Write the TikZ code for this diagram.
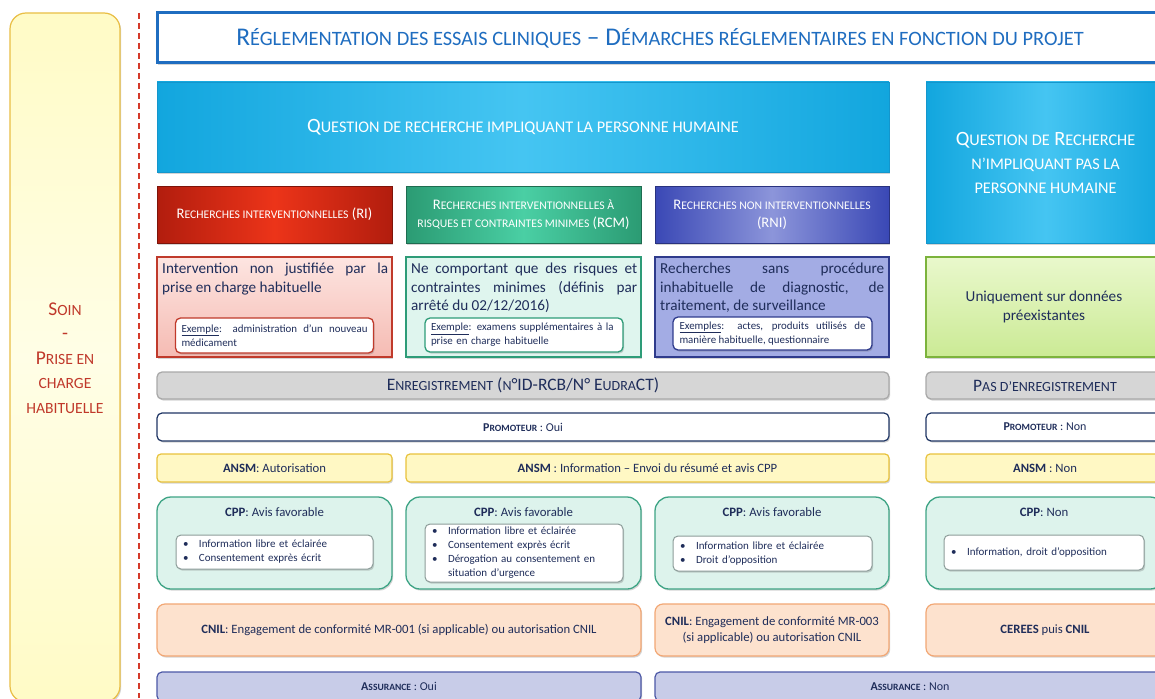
\documentclass[tikz,border=0pt]{standalone}
\usepackage{fontspec}
\setmainfont{Carlito}
\usetikzlibrary{shadows}
\hyphenpenalty=10000 \exhyphenpenalty=10000
\makeatletter
\newcommand\smc[1]{{\fontsize{\fpeval{0.8*\f@size}}{\fpeval{1.2*\f@size}}\selectfont\MakeUppercase{#1}}}
\makeatother
\definecolor{titleblue}{HTML}{1F6DC0}
\definecolor{navy}{HTML}{1F2D5A}
\definecolor{txt}{HTML}{2A365A}
\definecolor{qL}{HTML}{45C5F2}
\definecolor{qD}{HTML}{12A6DE}
\definecolor{qB}{HTML}{1496CC}
\definecolor{riD}{HTML}{B21D0E}
\definecolor{riL}{HTML}{EC3419}
\definecolor{rcmD}{HTML}{2B9B73}
\definecolor{rcmL}{HTML}{4ACFA4}
\definecolor{rniD}{HTML}{3A48B5}
\definecolor{rniL}{HTML}{8C95DA}
\definecolor{riB}{HTML}{C03A2B}
\definecolor{riTop}{HTML}{FDE5E1}
\definecolor{riBot}{HTML}{F5BBB3}
\definecolor{rcmB}{HTML}{2E9C78}
\definecolor{rcmF}{HTML}{DFF5EE}
\definecolor{rniB}{HTML}{2F3B8C}
\definecolor{rniF}{HTML}{A3ACE4}
\definecolor{grB}{HTML}{7CB33C}
\definecolor{grTop}{HTML}{E9F8CC}
\definecolor{grBot}{HTML}{CBEA95}
\definecolor{grayF}{HTML}{D6D6D6}
\definecolor{grayB}{HTML}{A9A9A9}
\definecolor{proB}{HTML}{1F3564}
\definecolor{ansmF}{HTML}{FFF8C4}
\definecolor{ansmB}{HTML}{E8C23C}
\definecolor{cppF}{HTML}{DDF3EC}
\definecolor{cppB}{HTML}{3EA485}
\definecolor{bulB}{HTML}{8C9C99}
\definecolor{cnilF}{HTML}{FDE2CE}
\definecolor{cnilB}{HTML}{F2A774}
\definecolor{asF}{HTML}{C8CCE8}
\definecolor{asB}{HTML}{4C58A6}
\definecolor{soinF}{HTML}{FFFBC6}
\definecolor{soinM}{HTML}{FFFEE6}
\definecolor{soinB}{HTML}{E9BE45}
\definecolor{soinT}{HTML}{C0392B}
\definecolor{dashC}{HTML}{D43A2A}
\newcommand\Bx[7]{\node[#2, minimum width={(#5-#3)*1pt}, minimum height={(#6-#4)*1pt}] (#1) at ({(#3+#5)/2},{(#4+#6)/2}) {#7};}
\newcommand\bl{\makebox[16pt][l]{•}}
\tikzset{
 bx/.style={outer sep=0pt, inner sep=1pt, align=center, text=txt},
 shd/.style={drop shadow={opacity=0.28, shadow xshift=1.2pt, shadow yshift=-1.6pt, fill=black!60}},
 soinbox/.style={bx, draw=soinB, line width=1.2pt, rounded corners=16pt, top color=soinF, bottom color=soinF, middle color=soinM, shd},
 sointext/.style={inner sep=0pt, align=center, text=soinT, font=\fontsize{19.5}{24.5}\selectfont},
 titlebox/.style={bx, draw=titleblue, line width=3pt, fill=white, text=titleblue, font=\fontsize{25.5}{28}\selectfont, shd},
 qbox/.style={bx, draw=qB, line width=0.8pt, left color=qD, right color=qD, middle color=qL, text=white, font=\fontsize{20.3}{24}\selectfont, shd},
 hdr/.style={bx, line width=0.8pt, text=white, font=\fontsize{14.6}{18}\selectfont, shd},
 desc/.style={bx, line width=1.3pt, shd},
 desctext/.style={inner sep=0pt, text width=226pt, align=justify, text=navy, font=\fontsize{15.2}{18.5}\selectfont},
 exbox/.style={bx, fill=white, line width=1.3pt, rounded corners=5pt, inner xsep=6pt, text width=186pt, align=justify, text=navy, font=\fontsize{10.9}{14}\selectfont, shd},
 graybar/.style={bx, draw=grayB, fill=grayF, line width=1.3pt, rounded corners=5pt, text=navy, font=\fontsize{17.5}{20}\selectfont, shd},
 probar/.style={bx, draw=proB, fill=white, line width=1.2pt, rounded corners=5pt, text=navy, font=\fontsize{12}{14}\selectfont, shd},
 ansm/.style={bx, draw=ansmB, fill=ansmF, line width=1.2pt, rounded corners=4pt, text=navy, font=\fontsize{12.7}{15}\selectfont, shd},
 cpp/.style={bx, draw=cppB, fill=cppF, line width=1.3pt, rounded corners=14pt, shd},
 lbl/.style={inner sep=0pt, text=navy, font=\fontsize{12.8}{15}\selectfont},
 bul/.style={bx, draw=bulB, fill=white, line width=1pt, rounded corners=5pt, inner xsep=7pt, align=left, text=navy, font=\fontsize{11}{14}\selectfont, shd},
 cnil/.style={bx, draw=cnilB, fill=cnilF, line width=1.2pt, rounded corners=8pt, text=navy, font=\fontsize{12.7}{16}\selectfont, shd},
 assur/.style={bx, draw=asB, fill=asF, line width=1.2pt, rounded corners=5pt, text=navy, font=\fontsize{12}{14}\selectfont, shd},
 dashline/.style={draw=dashC, line width=1.6pt, dash pattern=on 6pt off 4pt},
}
\begin{document}
\begin{tikzpicture}[x=1pt,y=-1pt]
\useasboundingbox[fill=white] (0,0) rectangle (1155,698);
% left column
\Bx{soin}{soinbox}{10}{13}{120}{702}{}
\node[sointext] (soint) at (65,358) {S\smc{oin}\\-\\P\smc{rise en}\\\smc{charge}\\\smc{habituelle}};
\coordinate (d1) at (139,13);
\coordinate (d2) at (139,698);
\draw[dashline] (d1) -- (d2);
% title
\Bx{title}{titlebox}{157}{13}{1163}{63}{R\smc{églementation des essais cliniques} – D\smc{émarches réglementaires en fonction du projet}}
% questions
\Bx{q1}{qbox}{157}{82}{889}{172}{Q\smc{uestion de recherche impliquant la personne humaine}}
\Bx{q2}{qbox}{926}{82}{1165}{243}{Q\smc{uestion de} R\smc{echerche}\\\smc{n’impliquant pas la}\\\smc{personne humaine}}
% headers
\Bx{ri}{hdr, draw=riD!70!black, left color=riD, right color=riD, middle color=riL}{157}{186}{392}{243}{R\smc{echerches interventionnelles} (RI)}
\Bx{rcm}{hdr, draw=rcmD!70!black, left color=rcmD, right color=rcmD, middle color=rcmL}{406}{186}{641}{243}{R\smc{echerches interventionnelles à}\\\smc{risques et contraintes minimes} (RCM)}
\Bx{rni}{hdr, draw=rniD!70!black, left color=rniD, right color=rniD, middle color=rniL}{655}{186}{889}{243}{R\smc{echerches non interventionnelles}\\(RNI)}
% descriptions
\Bx{dri}{desc, draw=riB, top color=riTop, bottom color=riBot}{157}{257}{392}{357}{}
\node[desctext, anchor=north west] (tri) at (162,263) {Intervention non justifiée par la\linebreak prise en charge habituelle};
\Bx{eri}{exbox, draw=riB}{176}{318}{373}{353}{\underline{Exemple}: administration d’un nouveau\linebreak médicament}
\Bx{drcm}{desc, draw=rcmB, fill=rcmF}{406}{257}{641}{357}{}
\node[desctext, anchor=north west] (trcm) at (411,263) {Ne comportant que des risques et\linebreak contraintes minimes (définis par\linebreak arrêté du 02/12/2016)};
\Bx{ercm}{exbox, draw=rcmB, align=left}{425}{318}{623}{352}{\underline{Exemple}: examens supplémentaires à la\\prise en charge habituelle}
\Bx{drni}{desc, draw=rniB, fill=rniF}{655}{257}{889}{357}{}
\node[desctext, anchor=north west, text width=224pt] (trni) at (660,263) {Recherches sans procédure\linebreak inhabituelle de diagnostic, de\linebreak traitement, de surveillance};
\Bx{erni}{exbox, draw=rniB}{673}{317}{872}{350}{\underline{Exemples}: actes, produits utilisés de\linebreak manière habituelle, questionnaire}
\Bx{dnp}{desc, draw=grB, top color=grTop, bottom color=grBot, text=navy, font=\fontsize{15.2}{18.5}\selectfont}{926}{257}{1162}{357}{Uniquement sur données\\préexistantes}
% registration
\Bx{enr}{graybar}{157}{372}{889}{399}{E\smc{nregistrement} (\smc{n}°ID-RCB/N° E\smc{udra}CT)}
\Bx{penr}{graybar}{926}{372}{1164}{399}{P\smc{as d’enregistrement}}
% promoteur
\Bx{pro1}{probar}{157}{413}{889}{441}{\textbf{P\smc{romoteur}} : Oui}
\Bx{pro2}{probar}{926}{413}{1164}{441}{\textbf{P\smc{romoteur}} : Non}
% ANSM
\Bx{an1}{ansm}{157}{454}{392}{482}{\textbf{ANSM}: Autorisation}
\Bx{an2}{ansm}{406}{454}{889}{482}{\textbf{ANSM} : Information – Envoi du résumé et avis CPP}
\Bx{an3}{ansm}{926}{454}{1164}{482}{\textbf{ANSM} : Non}
% CPP
\Bx{cpp1}{cpp}{157}{497}{392}{589}{}
\node[lbl] (cpp1t) at (274.5,512) {\textbf{CPP}: Avis favorable};
\Bx{cpp1b}{bul, text width=183pt}{176}{535}{373}{569}{\bl Information libre et éclairée\\\bl Consentement exprès écrit}
\Bx{cpp2}{cpp}{406}{497}{641}{589}{}
\node[lbl] (cpp2t) at (523.5,512) {\textbf{CPP}: Avis favorable};
\Bx{cpp2b}{bul, text width=184pt}{425}{524}{623}{582}{\bl Information libre et éclairée\\\bl Consentement exprès écrit\\\bl Dérogation au consentement en\\\hspace*{16pt}situation d’urgence}
\Bx{cpp3}{cpp}{655}{497}{889}{589}{}
\node[lbl] (cpp3t) at (772,512) {\textbf{CPP}: Avis favorable};
\Bx{cpp3b}{bul, text width=185pt}{673}{536}{872}{571}{\bl Information libre et éclairée\\\bl Droit d’opposition}
\Bx{cpp4}{cpp}{926}{497}{1164}{589}{}
\node[lbl] (cpp4t) at (1044,512) {\textbf{CPP}: Non};
\Bx{cpp4b}{bul, text width=186pt}{944}{535}{1144}{570}{\bl Information, droit d’opposition}
% CNIL
\Bx{cn1}{cnil}{157}{604}{641}{656}{\textbf{CNIL}: Engagement de conformité MR-001 (si applicable) ou autorisation CNIL}
\Bx{cn2}{cnil}{655}{604}{889}{656}{\textbf{CNIL}: Engagement de conformité MR-003\\(si applicable) ou autorisation CNIL}
\Bx{cn3}{cnil}{926}{604}{1164}{656}{\textbf{CEREES} puis \textbf{CNIL}}
% Assurance
\Bx{as1}{assur}{157}{672}{641}{701}{\textbf{A\smc{ssurance}} : Oui}
\Bx{as2}{assur}{655}{672}{1165}{701}{\textbf{A\smc{ssurance}} : Non}
\end{tikzpicture}
\end{document}
